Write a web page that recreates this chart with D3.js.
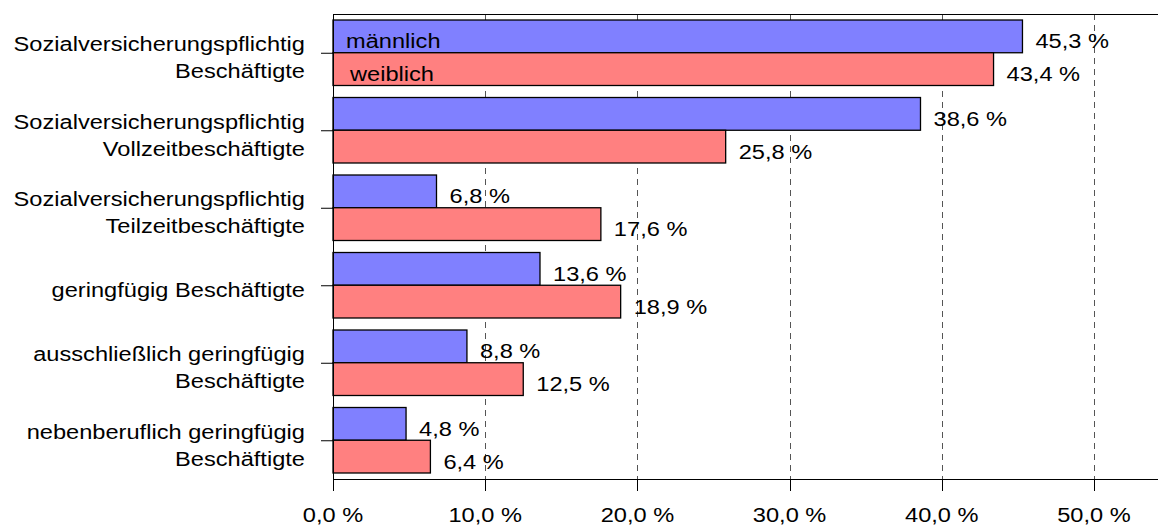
<!DOCTYPE html>
<html>
  <head>
    <meta charset="utf-8">
    <title>Beschäftigte nach Geschlecht</title>
    <style type="text/css">
      body { margin: 0; background: #fff; }
      svg text { font-family: "Liberation Sans", Arial, sans-serif; font-size: 21px; fill: #000; }
    </style>
  </head>
  <body>
    <div id="chart"></div>
    <script src="https://d3js.org/d3.v7.min.js"></script>
    <script>

    // category labels (each entry = lines of the label)
    var categories = [
      ["Sozialversicherungspflichtig", "Beschäftigte"],
      ["Sozialversicherungspflichtig", "Vollzeitbeschäftigte"],
      ["Sozialversicherungspflichtig", "Teilzeitbeschäftigte"],
      ["geringfügig Beschäftigte"],
      ["ausschließlich geringfügig", "Beschäftigte"],
      ["nebenberuflich geringfügig", "Beschäftigte"]
    ];
    var series = ["männlich", "weiblich"];
    var maennlich = [45.3, 38.6, 6.8, 13.6, 8.8, 4.8];
    var weiblich  = [43.4, 25.8, 17.6, 18.9, 12.5, 6.4];
    var xTicks = [0, 10, 20, 30, 40, 50];

    var width = 1158,
        height = 526;
    var plotLeft = 333, plotTop = 14, plotBottom = 479;
    var pxPerUnit = 15.22;
    var sx = 1.125; // text is stretched a bit wider than normal

    var colors = {"männlich": "#8080ff", "weiblich": "#ff8080"};

    var keys = categories.map(function(d, i) { return i; });

    var x = d3.scaleLinear()
      .domain([0, 50])
      .range([plotLeft, plotLeft + 50 * pxPerUnit]);

    var y = d3.scaleBand()
      .domain(keys)
      .range([plotTop, plotBottom])
      .paddingInner(0.155)
      .paddingOuter(0.0775);

    var ySub = d3.scaleBand()
      .domain(series)
      .range([0, y.bandwidth()]);

    var fmt = function(v) { return d3.format(".1f")(v).replace(".", ",") + " %"; };

    var svg = d3.select("#chart").append("svg")
      .attr("width", width)
      .attr("height", height);

    // dashed grid lines
    svg.append("g")
      .selectAll("line")
      .data(xTicks.slice(1))
      .enter().append("line")
      .attr("x1", function(d) { return Math.round(x(d)) + 0.5; })
      .attr("x2", function(d) { return Math.round(x(d)) + 0.5; })
      .attr("y1", plotTop)
      .attr("y2", plotBottom)
      .attr("stroke", "#555")
      .attr("stroke-dasharray", "6,5");

    // bars
    var rows = keys.map(function(i) {
      return [
        {cat: i, s: "männlich", v: maennlich[i]},
        {cat: i, s: "weiblich", v: weiblich[i]}
      ];
    });

    var g = svg.selectAll("g.grp")
      .data(rows)
      .enter().append("g")
      .attr("class", "grp")
      .attr("transform", function(d, i) { return "translate(0," + y(i) + ")"; });

    g.selectAll("rect")
      .data(function(d) { return d; })
      .enter().append("rect")
      .attr("x", x(0))
      .attr("y", function(d) { return ySub(d.s); })
      .attr("width", function(d) { return x(d.v) - x(0); })
      .attr("height", ySub.bandwidth())
      .attr("fill", function(d) { return colors[d.s]; })
      .attr("stroke", "#000")
      .attr("stroke-width", 1.3);

    // value labels
    g.selectAll("text.val")
      .data(function(d) { return d; })
      .enter().append("text")
      .attr("class", "val")
      .attr("transform", function(d) {
        return "translate(" + (x(d.v) + 13) + "," + (ySub(d.s) + ySub.bandwidth() / 2 + 12) + ") scale(" + sx + ",1)";
      })
      .text(function(d) { return fmt(d.v); });

    // legend names inside first group's bars
    svg.selectAll("text.leg")
      .data(series)
      .enter().append("text")
      .attr("class", "leg")
      .attr("transform", function(d, i) {
        return "translate(" + (x(0) + 13 + i * 4) + "," + (y(0) + ySub(d) + ySub.bandwidth() / 2 + 12) + ") scale(" + sx + ",1)";
      })
      .text(function(d) { return d; });

    // frame: top line, left axis, bottom axis
    svg.append("line")
      .attr("x1", plotLeft).attr("x2", width)
      .attr("y1", plotTop + 0.5).attr("y2", plotTop + 0.5)
      .attr("stroke", "#000");
    svg.append("line")
      .attr("x1", plotLeft + 0.5).attr("x2", plotLeft + 0.5)
      .attr("y1", plotTop).attr("y2", plotBottom)
      .attr("stroke", "#000");
    svg.append("line")
      .attr("x1", plotLeft).attr("x2", width)
      .attr("y1", plotBottom + 0.5).attr("y2", plotBottom + 0.5)
      .attr("stroke", "#000");

    // x ticks and labels
    var xt = svg.append("g").selectAll("g")
      .data(xTicks)
      .enter().append("g");
    xt.append("line")
      .attr("x1", function(d) { return Math.round(x(d)) + 0.5; })
      .attr("x2", function(d) { return Math.round(x(d)) + 0.5; })
      .attr("y1", plotBottom)
      .attr("y2", plotBottom + 12)
      .attr("stroke", "#000");
    xt.append("text")
      .attr("text-anchor", "middle")
      .attr("transform", function(d) { return "translate(" + x(d) + "," + (plotBottom + 43) + ") scale(" + sx + ",1)"; })
      .text(function(d) { return fmt(d); });

    // category ticks and labels
    var yt = svg.append("g").selectAll("g")
      .data(keys)
      .enter().append("g")
      .attr("transform", function(d) { return "translate(0," + (y(d) + y.bandwidth() / 2) + ")"; });
    yt.append("line")
      .attr("x1", plotLeft - 12)
      .attr("x2", plotLeft)
      .attr("y1", 0.5)
      .attr("y2", 0.5)
      .attr("stroke", "#000");
    yt.each(function(d) {
      var lines = categories[d];
      var base = 12 - (lines.length - 1) * 13.3;
      d3.select(this).selectAll("text")
        .data(lines)
        .enter().append("text")
        .attr("text-anchor", "end")
        .attr("transform", function(t, j) { return "translate(305," + (base + j * 26.6) + ") scale(" + sx + ",1)"; })
        .text(function(t) { return t; });
    });

    </script>
  </body>
</html>
